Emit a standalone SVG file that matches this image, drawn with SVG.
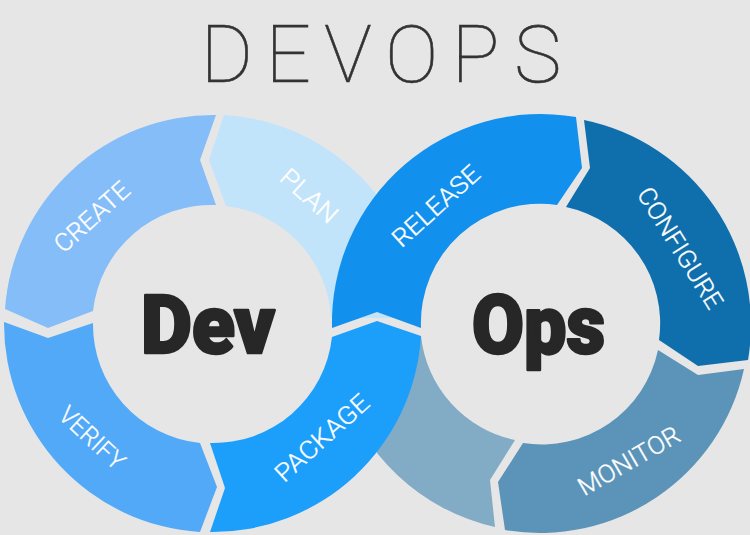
<svg xmlns="http://www.w3.org/2000/svg" width="750" height="535" viewBox="0 0 750 535">
<style>
.lab{font-family:"Roboto","Liberation Sans",sans-serif;font-weight:300;font-size:25px;fill:#fff;stroke:#fff;stroke-width:.3;text-anchor:middle}
.big{font-family:"Roboto","Liberation Sans",sans-serif;font-weight:900;font-size:81px;fill:#272727;stroke:#272727;stroke-width:2.6;stroke-linejoin:round}
</style>
<rect width="750" height="535" fill="#e6e6e6"/>
<text id="title" x="200.5 265.5 324 385 451.5 514" y="82" font-family="Roboto,'Liberation Sans',sans-serif" font-weight="100" font-size="80" fill="#333" stroke="#333" stroke-width=".6">DEVOPS</text>
<g id="plan"><path fill="#c2e4fb" d="M224 115A209 209 0 0 1 421 318L331 318A119 119 0 0 0 226 206L209 160Z"/><text class="lab" transform="translate(309 196) rotate(42)" y="8.5" textLength="68" lengthAdjust="spacingAndGlyphs">PLAN</text></g>
<g id="create"><path fill="#85bdf9" d="M216 115A209 209 0 0 0 5 309L48 328L93 311A119 119 0 0 1 216 205L200 160Z"/><text class="lab" transform="translate(92 217) rotate(-42)" y="8.5" textLength="92" lengthAdjust="spacingAndGlyphs">CREATE</text></g>
<g id="verify"><path fill="#52a9f7" d="M4 322L48 338L93 323A119 119 0 0 0 200 443L217 487L200 532A209 209 0 0 1 4 322Z"/><text class="lab" transform="translate(92 438) rotate(43)" y="8.5" textLength="80" lengthAdjust="spacingAndGlyphs">VERIFY</text></g>
<g id="ops-light"><path fill="#82acc6" d="M421 336A119 119 0 0 0 515 440L490 480L495 527A209 209 0 0 1 340 381Z"/></g>
<g id="package"><path fill="#1c9efb" d="M210 443L225 488L210 532A209 209 0 0 0 421 336L377 321L332 337A119 119 0 0 1 210 443Z"/><text class="lab" transform="translate(322 438) rotate(-42)" y="8.5" textLength="117" lengthAdjust="spacingAndGlyphs">PACKAGE</text></g>
<g id="release"><path fill="#1290ee" d="M332 328L377 312L421 328A119 119 0 0 1 557 205L582 168L576 117A209 209 0 0 0 332 328Z"/><text class="lab" transform="translate(436 206) rotate(-42)" y="8.5" textLength="108" lengthAdjust="spacingAndGlyphs">RELEASE</text></g>
<g id="configure"><path fill="#0f6fad" d="M584 120L590 168L566 207A119 119 0 0 1 659 340L698 366L748 360A209 209 0 0 0 584 120Z"/><text class="lab" transform="translate(680 248) rotate(58)" y="8.5" textLength="138" lengthAdjust="spacingAndGlyphs">CONFIGURE</text></g>
<g id="monitor"><path fill="#5b94b8" d="M658 350L698 375L744 369A209 209 0 0 1 505 530L498 482L523 443A119 119 0 0 0 658 350Z"/><text class="lab" transform="translate(629 461) rotate(-30)" y="8.5" textLength="113" lengthAdjust="spacingAndGlyphs">MONITOR</text></g>
<g id="dev"><text class="big" x="141" y="353" textLength="134" lengthAdjust="spacingAndGlyphs">Dev</text></g>
<g id="ops"><text class="big" x="472" y="353" textLength="133" lengthAdjust="spacingAndGlyphs">Ops</text></g>
</svg>
